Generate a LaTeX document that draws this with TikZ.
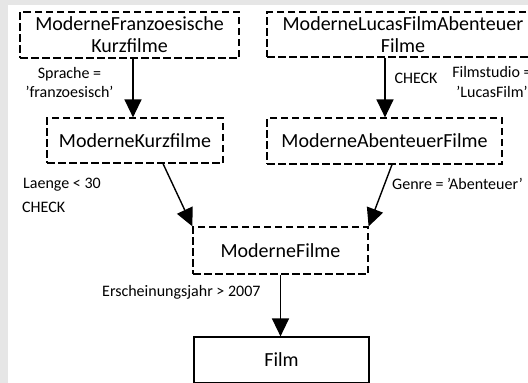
\documentclass[tikz,border=0pt]{standalone}
\usepackage{fontspec}
\setmainfont{Carlito}
\usetikzlibrary{arrows.meta}
\definecolor{bggray}{RGB}{230,230,230}
\newcommand{\sq}{\char"27\relax}
\begin{document}
\begin{tikzpicture}[x=1pt,y=-1pt,
  box/.style={draw,line width=1.2pt,dash pattern=on 7.5pt off 3.5pt,inner sep=0pt,
    font=\fontsize{20}{22}\selectfont,align=center},
  solidbox/.style={draw,line width=1.2pt,inner sep=0pt,font=\fontsize{20}{22}\selectfont},
  arr/.style={line width=1.4pt,-{Triangle[length=18pt,width=17pt]}},
  lbl/.style={font=\fontsize{16}{19.5}\selectfont,inner sep=0pt}]
\useasboundingbox (0,0) rectangle (528,383);
\fill[bggray] (0,0) rectangle (528,383);
\fill[white] (8,5) rectangle (540,390);
\node[box,minimum width=219pt,minimum height=46pt] (b1) at (129.5,35) {ModerneFranzoesische\\Kurzfilme};
\node[box,minimum width=272pt,minimum height=45pt] (b3) at (403,34.5) {ModerneLucasFilmAbenteuer\\Filme};
\node[box,minimum width=176pt,minimum height=45pt] (b2) at (135,140.5) {ModerneKurzfilme};
\node[box,minimum width=235pt,minimum height=46pt] (b4) at (384.5,141) {ModerneAbenteuerFilme};
\node[box,minimum width=175pt,minimum height=47pt] (b5) at (280.5,250.5) {ModerneFilme};
\node[solidbox,minimum width=175pt,minimum height=46pt] (film) at (281.5,360) {Film};
\draw[arr] ([xshift=3.5pt]b1.south) -- ([xshift=-2pt]b2.north);
\draw[arr] ([xshift=-18pt]b3.south) -- ([xshift=0.5pt]b4.north);
\draw[arr] ([xshift=28pt]b2.south) -- (b5.north west);
\draw[arr] ([xshift=7.5pt]b4.south) -- (b5.north east);
\draw[arr] (b5.south) -- (b5.south |- film.north);
\node[lbl,align=center] (l1) at (69.5,82.5) {Sprache =\\\sq franzoesisch\sq};
\node[lbl] (l2) at (416,78) {CHECK};
\node[lbl,align=center] (l3) at (492,82) {Filmstudio =\\\sq LucasFilm\sq};
\node[lbl,anchor=west] (l4) at (23,185) {Laenge < 30};
\node[lbl,anchor=west] (l5) at (22,207) {CHECK};
\node[lbl,anchor=west] (l6) at (392,184) {Genre = \sq Abenteuer\sq};
\node[lbl,anchor=west] (l7) at (102,292) {Erscheinungsjahr > 2007};
\end{tikzpicture}
\end{document}
